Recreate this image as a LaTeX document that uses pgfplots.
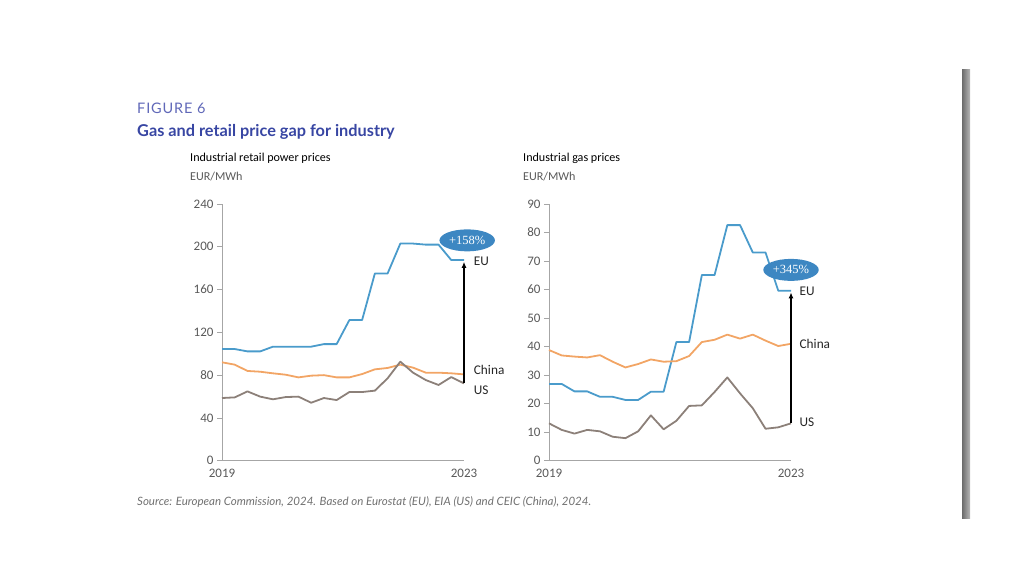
\documentclass[border=0pt]{standalone}
\usepackage{fontspec}
\setmainfont{Carlito}
\newfontfamily\headfont{Lato}
\newfontfamily\figfont[LetterSpace=6]{Lato}
\newfontfamily\badgefont{Liberation Serif}
\usepackage{pgfplots}
\usepackage{pgfplotstable}
\pgfplotsset{compat=1.18}
\usetikzlibrary{arrows.meta,shapes.geometric}

\definecolor{eublue}{HTML}{4A9BCB}
\definecolor{cnorange}{HTML}{F2A565}
\definecolor{usgray}{HTML}{8C8079}
\definecolor{badge}{HTML}{3D87C2}
\definecolor{axisgray}{HTML}{A6A6A6}
\definecolor{ticktext}{HTML}{595959}
\definecolor{figblue}{HTML}{6068B8}
\definecolor{titleblue}{HTML}{3846A3}
\definecolor{srcgray}{HTML}{707070}

% Half-yearly points, 2019 to 2023 (index 0..19)
\pgfplotstableread{
t  eu     cn    us
0  104.4  92.0  58.6
1  104.4  89.8  59.2
2  102.2  83.9  64.8
3  102.2  83.2  59.9
4  106.6  81.7  57.4
5  106.6  80.4  59.5
6  106.6  77.9  59.9
7  106.6  79.5  54.2
8  109.0  80.0  58.6
9  109.0  77.9  56.7
10 131.5  77.9  64.2
11 131.5  81.0  64.2
12 175.0  85.4  65.5
13 175.0  86.7  77.0
14 203.0  89.8  92.6
15 203.0  87.0  82.3
16 202.0  82.3  75.4
17 202.0  82.3  70.8
18 187.6  81.7  78.2
19 187.6  80.7  72.3
}\power

\pgfplotstableread{
t  eu    cn    us
0  26.9  38.8  13.1
1  26.9  36.9  10.8
2  24.3  36.5   9.5
3  24.3  36.2  10.8
4  22.4  37.0  10.3
5  22.4  34.7   8.4
6  21.3  32.7   7.9
7  21.3  33.9  10.3
8  24.2  35.5  15.9
9  24.2  34.7  11.0
10 41.6  34.9  14.0
11 41.6  36.7  19.2
12 65.1  41.6  19.4
13 65.1  42.4  24.1
14 82.6  44.2  29.2
15 82.6  42.8  23.6
16 73.0  44.2  18.4
17 73.0  42.1  11.2
18 59.6  40.2  11.7
19 59.6  41.0  13.1
}\gas

\pgfplotsset{
  panel/.style={
    scale only axis, width=242pt, height=256.7pt,
    xmin=0, xmax=19, ymin=0,
    axis lines*=left,
    axis line style={axisgray, line width=0.8pt},
    xtick={0,19}, xticklabels={2019,2023},
    x tick style={draw=none},
    y tick style={axisgray, line width=0.8pt},
    tick align=outside, major tick length=5pt,
    tick label style={font=\fontsize{13}{15}\selectfont, text=ticktext},
    /pgf/number format/assume math mode=true,
    every axis plot/.append style={line width=1.8pt, line join=round, mark=none},
    clip=false,
  },
}
\tikzset{
  badge/.style={ellipse, fill=badge, text=white, inner sep=1.5pt,
    minimum width=46pt, minimum height=22pt,
    font=\badgefont\fontsize{12.5}{14}\selectfont},
  serieslabel/.style={anchor=west, text=black!85, font=\fontsize{13.3}{15}\selectfont},
}

\begin{document}
\begin{tikzpicture}[x=1pt, y=1pt]
\path[use as bounding box] (0,0) rectangle (1024,576);

% heading
\node[anchor=base west, inner sep=0, text=figblue, font=\figfont\fontsize{14.5}{17}\selectfont] at (137,462) {FIGURE 6};
\node[anchor=base west, inner sep=0, text=titleblue, font=\headfont\bfseries\fontsize{16.3}{19}\selectfont] at (137,439) {Gas and retail price gap for industry};

% panel headings
\node[anchor=base west, inner sep=0, font=\fontsize{12.1}{14}\selectfont] at (190,414) {Industrial retail power prices};
\node[anchor=base west, inner sep=0, text=ticktext, font=\fontsize{12.1}{14}\selectfont] at (190,395) {EUR/MWh};
\node[anchor=base west, inner sep=0, font=\fontsize{12.1}{14}\selectfont] at (523,414) {Industrial gas prices};
\node[anchor=base west, inner sep=0, text=ticktext, font=\fontsize{12.1}{14}\selectfont] at (523,395) {EUR/MWh};

% power prices
\begin{axis}[panel, at={(222pt,115.3pt)}, anchor=south west,
  ymax=240, ytick={0,40,...,240}]
  \addplot[eublue] table[x=t, y=eu] {\power};
  \addplot[cnorange] table[x=t, y=cn] {\power};
  \addplot[usgray] table[x=t, y=us] {\power};
  \draw[-{Latex[length=6pt,width=5pt]}, line width=1.6pt, black] (axis cs:19,72.3) -- (axis cs:19,186);
  \node[badge] at (axis cs:19.25,206) {+158\%};
  \node[serieslabel] at (axis cs:19.5,186.5) {EU};
  \node[serieslabel] at (axis cs:19.5,85) {China};
  \node[serieslabel] at (axis cs:19.5,66) {US};
\end{axis}

% gas prices
\begin{axis}[panel, at={(549pt,115.3pt)}, anchor=south west,
  ymax=90, ytick={0,10,...,90}]
  \addplot[eublue] table[x=t, y=eu] {\gas};
  \addplot[cnorange] table[x=t, y=cn] {\gas};
  \addplot[usgray] table[x=t, y=us] {\gas};
  \draw[-{Latex[length=6pt,width=5pt]}, line width=1.6pt, black] (axis cs:19,13.1) -- (axis cs:19,59);
  \node[badge] at (axis cs:19.0,66.9) {+345\%};
  \node[serieslabel] at (axis cs:19.4,59.5) {EU};
  \node[serieslabel] at (axis cs:19.4,41) {China};
  \node[serieslabel] at (axis cs:19.4,13.6) {US};
\end{axis}

% source line
\node[anchor=base west, inner sep=0, text=srcgray, font=\headfont\itshape\fontsize{11.5}{13}\selectfont] at (137,71) {Source: European Commission, 2024. Based on Eurostat (EU), EIA (US) and CEIC (China), 2024.};

% page edge
\shade[left color=black!58, right color=black!28] (962,58) rectangle (970,506);
\end{tikzpicture}
\end{document}
